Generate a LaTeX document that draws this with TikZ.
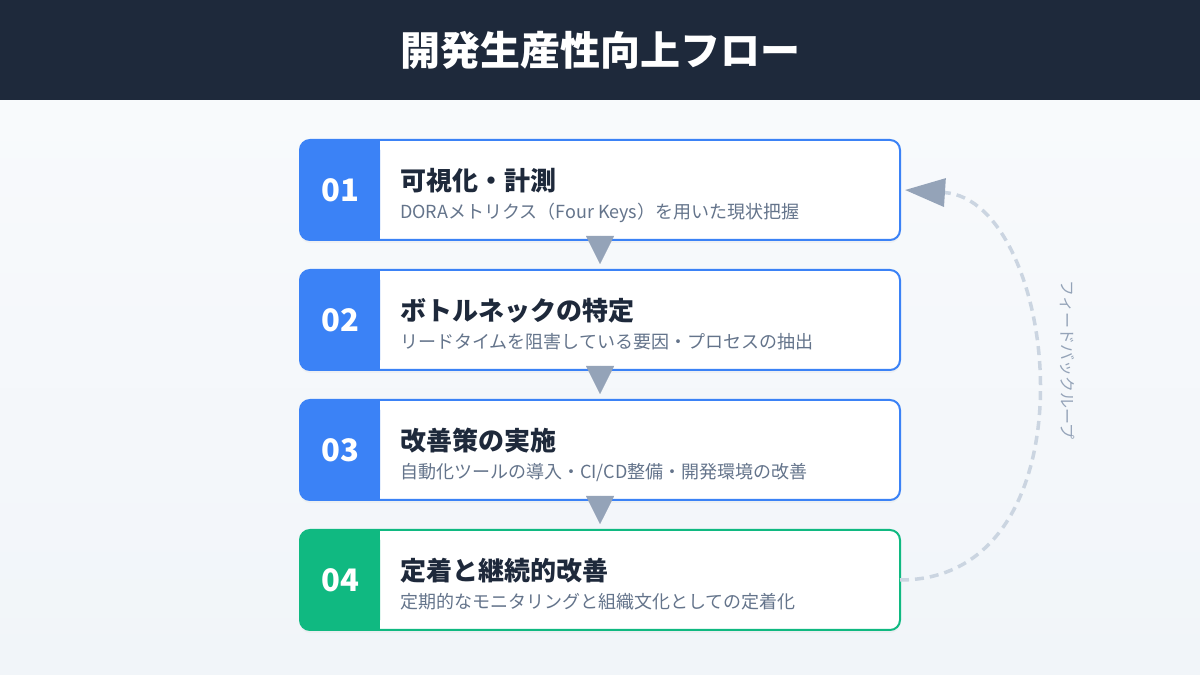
\documentclass[tikz,border=0pt]{standalone}
\usepackage{fontspec}
\setmainfont{Noto Sans CJK JP}
\usetikzlibrary{positioning,arrows.meta,shadows}
\definecolor{headbg}{HTML}{1E293B}
\definecolor{stepblue}{HTML}{3B82F6}
\definecolor{stepgreen}{HTML}{10B981}
\definecolor{descgray}{HTML}{64748B}
\definecolor{arrowgray}{HTML}{94A3B8}
\definecolor{dashgray}{HTML}{CBD5E1}
\definecolor{bgtop}{HTML}{F8FAFC}
\definecolor{bgbottom}{HTML}{F1F5F9}

\begin{document}
\begin{tikzpicture}[x=1pt,y=1pt,
		every node/.style={inner sep=0pt, outer sep=0pt},
		stepbox/.style={draw=#1, line width=2pt, fill=white,
			rounded corners=10pt, minimum width=600pt, minimum height=100pt,
			drop shadow={shadow xshift=0pt, shadow yshift=-3pt, opacity=0.06}},
		stepnum/.style={font=\fontsize{31}{37}\selectfont\bfseries, text=white},
		steptitle/.style={anchor=base west, font=\fontsize{26}{31}\selectfont\bfseries, text=headbg},
		stepdesc/.style={anchor=base west, font=\fontsize{18}{22}\selectfont, text=descgray},
		stepflow/.style={-{Triangle[width=28pt,length=28pt]}, arrowgray, line width=0.01pt},
		feedback/.style={dashgray, line width=3.5pt, dash pattern=on 9pt off 6pt,
			-{Triangle[width=28pt,length=40pt,color=arrowgray]}},
		]

		\useasboundingbox (0,0) rectangle (1200,675);
		\shade[top color=bgtop, bottom color=bgbottom] (0,0) rectangle (1200,575);
		\fill[headbg] (0,575) rectangle (1200,675);
		\node (title) [font=\fontsize{40}{48}\selectfont\bfseries, text=white] at (600,625) {開発生産性向上フロー};

		% steps
		\node (box1) [stepbox=stepblue] at (600,485) {};
		\node (box2) [stepbox=stepblue, below = 30pt of box1] {};
		\node (box3) [stepbox=stepblue, below = 30pt of box2] {};
		\node (box4) [stepbox=stepgreen, below = 30pt of box3] {};

		\fill[stepblue, rounded corners=10pt] (box1.north west) rectangle ([xshift=80pt]box1.south west);
		\fill[stepblue] ([xshift=70pt]box1.north west) rectangle ([xshift=80pt]box1.south west);
		\fill[stepblue, rounded corners=10pt] (box2.north west) rectangle ([xshift=80pt]box2.south west);
		\fill[stepblue] ([xshift=70pt]box2.north west) rectangle ([xshift=80pt]box2.south west);
		\fill[stepblue, rounded corners=10pt] (box3.north west) rectangle ([xshift=80pt]box3.south west);
		\fill[stepblue] ([xshift=70pt]box3.north west) rectangle ([xshift=80pt]box3.south west);
		\fill[stepgreen, rounded corners=10pt] (box4.north west) rectangle ([xshift=80pt]box4.south west);
		\fill[stepgreen] ([xshift=70pt]box4.north west) rectangle ([xshift=80pt]box4.south west);

		\node (num1) [stepnum] at ([xshift=40pt]box1.west) {01};
		\node (num2) [stepnum] at ([xshift=40pt]box2.west) {02};
		\node (num3) [stepnum] at ([xshift=40pt]box3.west) {03};
		\node (num4) [stepnum] at ([xshift=40pt]box4.west) {04};

		\node (title1) [steptitle] at ([xshift=100pt,yshift=-1pt]box1.west) {可視化・計測};
		\node (desc1) [stepdesc] at ([xshift=100pt,yshift=-29pt]box1.west) {DORAメトリクス（Four Keys）を用いた現状把握};
		\node (title2) [steptitle] at ([xshift=100pt,yshift=-1pt]box2.west) {ボトルネックの特定};
		\node (desc2) [stepdesc] at ([xshift=100pt,yshift=-29pt]box2.west) {リードタイムを阻害している要因・プロセスの抽出};
		\node (title3) [steptitle] at ([xshift=100pt,yshift=-1pt]box3.west) {改善策の実施};
		\node (desc3) [stepdesc] at ([xshift=100pt,yshift=-29pt]box3.west) {自動化ツールの導入・CI/CD整備・開発環境の改善};
		\node (title4) [steptitle] at ([xshift=100pt,yshift=-1pt]box4.west) {定着と継続的改善};
		\node (desc4) [stepdesc] at ([xshift=100pt,yshift=-29pt]box4.west) {定期的なモニタリングと組織文化としての定着化};

		\draw[stepflow] ([yshift=4pt]box1.south) -- ([yshift=6pt]box2.north);
		\draw[stepflow] ([yshift=4pt]box2.south) -- ([yshift=6pt]box3.north);
		\draw[stepflow] ([yshift=4pt]box3.south) -- ([yshift=6pt]box4.north);

		% feedback loop
		\draw[feedback] (box4.east) .. controls +(200,0) and +(155,-10) .. ([xshift=5pt]box1.east);
		\node (loop) [rotate=-90, font=\fontsize{16}{19}\selectfont, text=arrowgray] at (1068,315) {フィードバックループ};

	\end{tikzpicture}
\end{document}
